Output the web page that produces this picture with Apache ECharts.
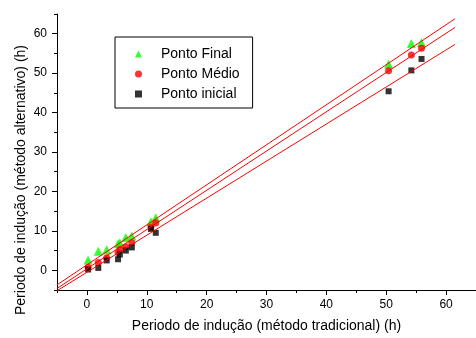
<!DOCTYPE html>
<html>
<head>
<meta charset="utf-8">
<script src="https://cdn.jsdelivr.net/npm/echarts@6/dist/echarts.min.js"></script>
<style>html,body{margin:0;padding:0;background:#fff;}#c{width:476px;height:338px;}</style>
</head>
<body>
<div id="c"></div>
<script>
// Traditional method (x) for each sample
var xTrad = [0.2, 1.9, 3.3, 5.2, 5.5, 6.5, 7.5, 10.7, 11.5, 50.4, 54.2, 55.9];
// Alternative method (y) for each point type
var pontoFinal   = [2.6, 4.8, 5.2, 6.7, 7.0, 8.3, 8.7, 12.3, 13.3, 52.3, 57.5, 57.8];
var pontoMedio   = [0.8, 2.0, 3.2, 4.5, 5.3, 6.0, 7.0, 11.0, 12.0, 50.6, 54.6, 56.3];
var pontoInicial = [0.2, 0.6, 2.5, 2.8, 4.0, 5.0, 5.8, 10.5, 9.5, 45.4, 50.7, 53.6];
// Fitted lines (end points)
var lineX  = [-5, 61.5];
var fitFinal   = [-3.7, 63.8];
var fitMedio   = [-4.6, 61.6];
var fitInicial = [-5.2, 57.3];
// Tick labels
var tickLabels = [0, 10, 20, 30, 40, 50, 60];
var seriesNames = ['Ponto Final', 'Ponto Médio', 'Ponto inicial'];

function pairs(xs, ys){ return xs.map(function(x,i){ return [x, ys[i]]; }); }

var FONT = 'Liberation Sans, Arial, sans-serif';
var chart = echarts.init(document.getElementById('c'), null, {renderer:'canvas'});

function majorAxis(extra){
  return Object.assign({
    type: 'value', min: -5, max: 65, interval: 5,
    axisLine: {onZero: false, lineStyle: {color: '#000', width: 1}},
    axisTick: {show: true, inside: false, length: 5, customValues: tickLabels, lineStyle: {color: '#000'}},
    splitLine: {show: false},
    axisLabel: {color: '#000', fontFamily: FONT, fontSize: 12, customValues: tickLabels, margin: 9}
  }, extra || {});
}
function minorAxis(pos){
  return {
    type: 'value', min: -5, max: 65, interval: 5, position: pos,
    axisLine: {show: false, onZero: false},
    axisTick: {show: true, inside: false, length: 3, lineStyle: {color: '#000'}},
    axisLabel: {show: false},
    splitLine: {show: false}
  };
}

chart.setOption({
  animation: false,
  backgroundColor: '#fff',
  grid: {left: 57, right: -2, top: 14, bottom: 43, containLabel: false},
  xAxis: [
    majorAxis({
      position: 'bottom',
      name: 'Periodo de indução (método tradicional) (h)',
      nameLocation: 'middle', nameGap: 29,
      nameTextStyle: {color: '#000', fontFamily: FONT, fontSize: 14}
    }),
    minorAxis('bottom')
  ],
  yAxis: [
    majorAxis({position: 'left', axisLabel: {color: '#000', fontFamily: FONT, fontSize: 12, customValues: tickLabels, margin: 10}}),
    minorAxis('left')
  ],
  legend: {
    orient: 'vertical', left: 115, top: 37,
    data: seriesNames,
    itemWidth: 7, itemHeight: 7, itemGap: 6,
    padding: [10, 13, 7, 20],
    borderColor: '#000', borderWidth: 1, borderRadius: 0,
    textStyle: {color: '#000', fontFamily: FONT, fontSize: 14, lineHeight: 14, padding: [0, 0, 0, 14]}
  },
  graphic: [{
    type: 'text',
    x: 21, y: 180,
    rotation: Math.PI / 2,
    style: {text: 'Periodo de indução (método alternativo) (h)', fill: '#000',
      font: '14px ' + FONT, align: 'center', verticalAlign: 'middle'}
  }],
  series: [
    {name: seriesNames[0], type: 'scatter', symbol: 'triangle', symbolSize: 9,
     itemStyle: {color: '#00ff00'}, data: pairs(xTrad, pontoFinal), z: 2},
    {name: seriesNames[1], type: 'scatter', symbol: 'circle', symbolSize: 7,
     itemStyle: {color: '#ff0000'}, data: pairs(xTrad, pontoMedio), z: 2},
    {name: seriesNames[2], type: 'scatter', symbol: 'rect', symbolSize: 6,
     itemStyle: {color: '#000000'}, data: pairs(xTrad, pontoInicial), z: 2},
    {type: 'line', data: pairs(lineX, fitFinal), symbol: 'none', clip: false,
     lineStyle: {color: '#ff0000', width: 1}, z: 3},
    {type: 'line', data: pairs(lineX, fitMedio), symbol: 'none', clip: false,
     lineStyle: {color: '#ff0000', width: 1}, z: 3},
    {type: 'line', data: pairs(lineX, fitInicial), symbol: 'none', clip: false,
     lineStyle: {color: '#ff0000', width: 1}, z: 3}
  ]
});
</script>
</body>
</html>
